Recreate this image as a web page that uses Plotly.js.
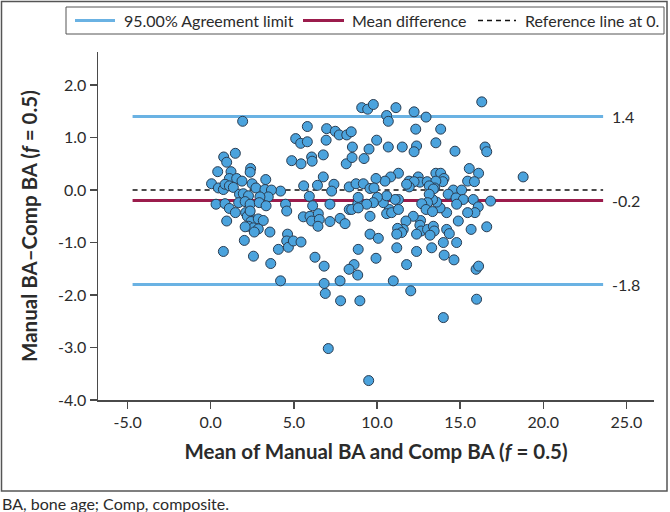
<!DOCTYPE html>
<html>
<head>
<meta charset="utf-8">
<script src="https://cdn.plot.ly/plotly-3.0.1.min.js"></script>
<style>
  html, body { margin: 0; padding: 0; background: #ffffff; }
  #chart { width: 670px; height: 512px; }
</style>
</head>
<body>
<div id="chart"></div>
<script>
// Bland–Altman plot: Manual BA vs Comp BA (f = 0.5)

// Mean of the two bone-age readings (x) for each case
const meanBA = [
  1.92, 5.81, 6.97, 7.49, 7.73, 8.18, 8.45, 5.11, 5.41, 5.81,
  6.94, 8.52, 1.48, 0.78, 0.96, 1.22, 0.42, 2.40, 2.37, 4.87,
  5.43, 6.07, 6.10, 6.77, 8.15, 8.50, 1.12, 1.56, 1.88, 3.31,
  2.49, 2.72, 0.05, 0.46, 0.76, 4.20, 5.59, 5.93, 6.42, 6.77,
  7.41, 7.27, 8.33, 8.74, 3.26, 3.65, 3.46, 2.96, 0.86, 1.12,
  1.36, 1.73, 1.96, 2.27, 4.50, 4.57,
  0.32, 0.86, 1.12, 1.48, 0.96, 1.68, 2.07, 2.37, 2.92, 3.33,
  2.10, 2.32, 2.20, 2.42, 2.27, 2.57, 2.86, 3.16, 2.86, 2.62,
  2.37, 2.07, 3.56, 2.02, 2.57, 3.61, 4.07, 4.62, 4.57, 4.67,
  4.97, 5.43, 5.57, 5.97, 6.07, 6.47, 6.53, 6.45, 7.17, 7.78,
  8.08, 7.17, 6.13, 8.33, 8.84, 8.87, 8.62, 8.32, 8.84, 6.27,
  6.82, 7.78, 6.82, 6.89, 7.81, 4.20, 0.76, 8.97,
  9.08, 9.44, 9.78, 11.14, 10.58, 10.68, 12.23, 12.95, 16.30, 12.33,
  13.83, 9.98, 10.68, 11.52, 12.38, 12.23, 13.54, 14.69, 16.50, 16.60,
  9.22, 9.52, 15.55, 16.11, 11.29, 10.82, 10.48, 9.94, 9.18, 9.58,
  9.82, 11.93, 12.48, 12.58, 12.23, 13.02, 11.94, 13.54, 13.83, 14.03,
  13.95, 13.54, 13.47, 13.14, 14.59, 15.09, 15.45, 15.86, 18.79, 11.78,
  13.39,
  14.28, 14.75, 15.19, 15.79, 16.83, 16.09, 15.89, 15.45, 14.79, 14.19,
  13.79, 13.59, 13.34, 13.14, 13.04, 12.69, 12.95, 13.34, 12.62, 12.58,
  12.65, 13.04, 13.39, 13.44, 13.19, 12.38, 12.18, 11.74, 11.58, 11.38,
  11.24, 11.48, 11.19, 10.74, 10.58, 10.88, 11.29, 11.29, 11.09, 10.38,
  10.58, 10.02, 9.78, 9.38, 8.87, 8.48, 8.87, 9.58, 9.58, 10.08,
  9.94, 10.98, 12.03, 11.19, 12.38, 11.78, 13.29, 13.99, 14.04, 14.79,
  14.63, 14.19, 14.35, 14.89, 15.66, 16.60, 15.96, 16.11, 15.99, 13.99,
  7.07, 9.50
];

// Manual BA minus Comp BA (y) for each case
const diffBA = [
  1.31, 1.21, 1.17, 1.12, 1.05, 1.05, 1.11, 0.98, 0.89, 0.92,
  0.95, 0.82, 0.70, 0.63, 0.53, 0.35, 0.35, 0.41, 0.34, 0.56,
  0.50, 0.63, 0.55, 0.67, 0.50, 0.62, 0.22, 0.22, 0.17, 0.20,
  0.12, 0.04, 0.12, 0.04, 0.01, -0.02, 0.08, -0.12, 0.09, 0.25,
  0.11, -0.02, 0.06, 0.12, 0.01, 0.00, -0.13, -0.13, 0.11, 0.08,
  0.05, -0.08, -0.07, -0.11, -0.27, -0.40,
  -0.27, -0.26, -0.35, -0.43, -0.59, -0.24, -0.22, -0.27, -0.24, -0.30,
  -0.43, -0.46, -0.50, -0.60, -0.69, -0.72, -0.55, -0.58, -0.74, -0.80,
  -0.40, -0.70, -0.80, -0.96, -1.26, -1.40, -1.13, -0.84, -0.97, -1.09,
  -0.97, -0.99, -0.51, -0.50, -0.59, -0.45, -0.56, -0.69, -0.60, -0.54,
  -0.64, -0.27, -0.30, -0.37, -0.27, -1.13, -1.42, -1.51, -1.62, -1.28,
  -1.45, -1.73, -1.78, -1.97, -2.11, -1.73, -1.17, -2.11,
  1.57, 1.54, 1.63, 1.57, 1.42, 1.31, 1.49, 1.39, 1.68, 1.16,
  1.16, 0.95, 0.82, 0.82, 0.84, 0.73, 0.90, 0.74, 0.82, 0.73,
  0.60, 0.78, 0.41, 0.32, 0.32, 0.25, 0.17, 0.22, 0.12, 0.03,
  0.04, 0.17, 0.25, 0.15, 0.16, 0.16, 0.06, 0.32, 0.32, 0.22,
  0.16, 0.17, 0.04, 0.08, 0.00, 0.00, 0.17, 0.16, 0.25, 0.11,
  0.02,
  -0.08, -0.15, -0.18, -0.18, -0.21, -0.32, -0.43, -0.43, -0.27, -0.43,
  -0.34, -0.23, -0.18, -0.08, -0.24, -0.26, -0.37, -0.41, -0.58, -0.67,
  -0.78, -0.75, -0.69, -0.78, -0.86, -0.84, -0.50, -0.59, -0.75, -0.78,
  -0.73, -0.81, -0.84, -0.37, -0.45, -0.43, -0.37, -0.18, -0.18, -0.24,
  -0.11, -0.14, -0.24, -0.27, -0.14, -0.37, -0.34, -0.50, -0.84, -0.92,
  -1.30, -1.73, -1.92, -1.10, -1.17, -1.42, -1.10, -1.00, -1.24, -1.00,
  -1.33, -0.75, -0.83, -0.59, -0.75, -0.70, -1.51, -1.45, -2.08, -2.43,
  -3.02, -3.63
];

// Summary lines
const upperLimit = 1.4;
const meanDiff = -0.2;
const lowerLimit = -1.8;
const referenceLevel = 0;
const lineSpan = [-4.7, 23.6];

// Axis ticks
const xTickVals = [-5, 0, 5, 10, 15, 20, 25];
const xTickText = ['-5.0', '0.0', '5.0', '10.0', '15.0', '20.0', '25.0'];
const yTickVals = [-4, -3, -2, -1, 0, 1, 2];
const yTickText = ['-4.0', '-3.0', '-2.0', '-1.0', '0.0', '1.0', '2.0'];

// Legend entries
const legendLabels = ['95.00% Agreement limit', 'Mean difference', 'Reference line at 0.'];

const FONT = 'Lato, "Open Sans", "DejaVu Sans", sans-serif';
const TEXT = '#2b2b2b';
const AXIS = '#4a4a4a';
const LIMIT_BLUE = '#6ab2e3';
const MEAN_RED = '#9b1c4c';
const DASH = '5px,4px';

const flat = v => [v, v];

const traces = [
  {
    x: lineSpan, y: flat(upperLimit), type: 'scatter', mode: 'lines',
    name: legendLabels[0], line: { color: LIMIT_BLUE, width: 3 }, hoverinfo: 'skip'
  },
  {
    x: lineSpan, y: flat(lowerLimit), type: 'scatter', mode: 'lines',
    name: legendLabels[0], line: { color: LIMIT_BLUE, width: 3 }, hoverinfo: 'skip'
  },
  {
    x: lineSpan, y: flat(meanDiff), type: 'scatter', mode: 'lines',
    name: legendLabels[1], line: { color: MEAN_RED, width: 3 }, hoverinfo: 'skip'
  },
  {
    x: lineSpan, y: flat(referenceLevel), type: 'scatter', mode: 'lines',
    name: legendLabels[2], line: { color: '#111111', width: 1.5, dash: DASH }, hoverinfo: 'skip'
  },
  {
    x: meanBA, y: diffBA, type: 'scatter', mode: 'markers', name: 'Cases',
    marker: { size: 10, color: '#4ba3dd', line: { color: '#2a3d52', width: 1 } }
  }
];

const lineLabel = (v) => ({
  x: lineSpan[1], y: v, xref: 'x', yref: 'y',
  text: v.toFixed(1), showarrow: false, xanchor: 'left', yanchor: 'middle',
  xshift: 7, font: { family: FONT, size: 16, color: TEXT }
});

// plot area spans 98..654 px horizontally and 52..400 px vertically
const px2x = p => (p - 98) / 556;
const px2y = p => (400 - p) / 348;

// legend box laid out across the top of the figure
const legendRow = 20.5;
const legendItems = [
  { x0: 75, x1: 115, text: 122, line: { color: LIMIT_BLUE, width: 3 } },
  { x0: 303, x1: 344, text: 350, line: { color: MEAN_RED, width: 3 } },
  { x0: 478, x1: 516, text: 523, line: { color: '#111111', width: 1.5, dash: DASH } }
];

const legendShapes = [
  {
    type: 'rect', xref: 'paper', yref: 'paper',
    x0: px2x(66), x1: px2x(664), y0: px2y(34), y1: px2y(7),
    line: { color: '#555555', width: 1 }, fillcolor: '#ffffff', layer: 'above'
  }
].concat(legendItems.map(it => ({
  type: 'line', xref: 'paper', yref: 'paper',
  x0: px2x(it.x0), x1: px2x(it.x1), y0: px2y(legendRow), y1: px2y(legendRow),
  line: it.line, layer: 'above'
})));

const legendTexts = legendItems.map((it, i) => ({
  xref: 'paper', yref: 'paper', x: px2x(it.text), y: px2y(legendRow),
  xanchor: 'left', yanchor: 'middle', showarrow: false,
  text: legendLabels[i], font: { family: FONT, size: 16, color: TEXT }
}));

const layout = {
  width: 670, height: 512,
  margin: { l: 98, r: 16, t: 52, b: 112, pad: 0 },
  paper_bgcolor: '#ffffff', plot_bgcolor: '#ffffff',
  font: { family: FONT, color: TEXT },
  showlegend: false,
  xaxis: {
    range: [-6.78, 26.66],
    tickmode: 'array', tickvals: xTickVals, ticktext: xTickText,
    ticks: 'outside', ticklen: 7, tickwidth: 1.5, tickcolor: AXIS,
    showline: true, linecolor: AXIS, linewidth: 1.5,
    showgrid: false, zeroline: false,
    tickfont: { family: FONT, size: 16, color: TEXT },
    title: {
      text: '<b>Mean of Manual BA and Comp BA (<i>f</i> = 0.5)</b>',
      font: { family: FONT, size: 20.5, color: TEXT }, standoff: 15
    }
  },
  yaxis: {
    range: [-4, 2.63],
    tickmode: 'array', tickvals: yTickVals, ticktext: yTickText,
    ticks: 'outside', ticklen: 7, tickwidth: 1.5, tickcolor: AXIS,
    showline: true, linecolor: AXIS, linewidth: 1.5,
    showgrid: false, zeroline: false,
    tickfont: { family: FONT, size: 16, color: TEXT },
    title: {
      text: '<b>Manual BA–Comp BA (<i>f</i> = 0.5)</b>',
      font: { family: FONT, size: 20.5, color: TEXT }, standoff: 15
    }
  },
  shapes: [
    {
      type: 'rect', xref: 'paper', yref: 'paper',
      x0: px2x(1.5), x1: px2x(667), y0: px2y(491), y1: px2y(1.5),
      line: { color: '#555555', width: 1.5 }, fillcolor: 'rgba(0,0,0,0)'
    }
  ].concat(legendShapes),
  annotations: [
    lineLabel(upperLimit),
    lineLabel(meanDiff),
    lineLabel(lowerLimit),
    {
      xref: 'paper', yref: 'paper', x: px2x(0), y: px2y(503),
      xanchor: 'left', yanchor: 'middle', showarrow: false,
      text: 'BA, bone age; Comp, composite.',
      font: { family: FONT, size: 16, color: TEXT }
    }
  ].concat(legendTexts)
};

Plotly.newPlot('chart', traces, layout, { staticPlot: true, displayModeBar: false });
</script>
</body>
</html>
